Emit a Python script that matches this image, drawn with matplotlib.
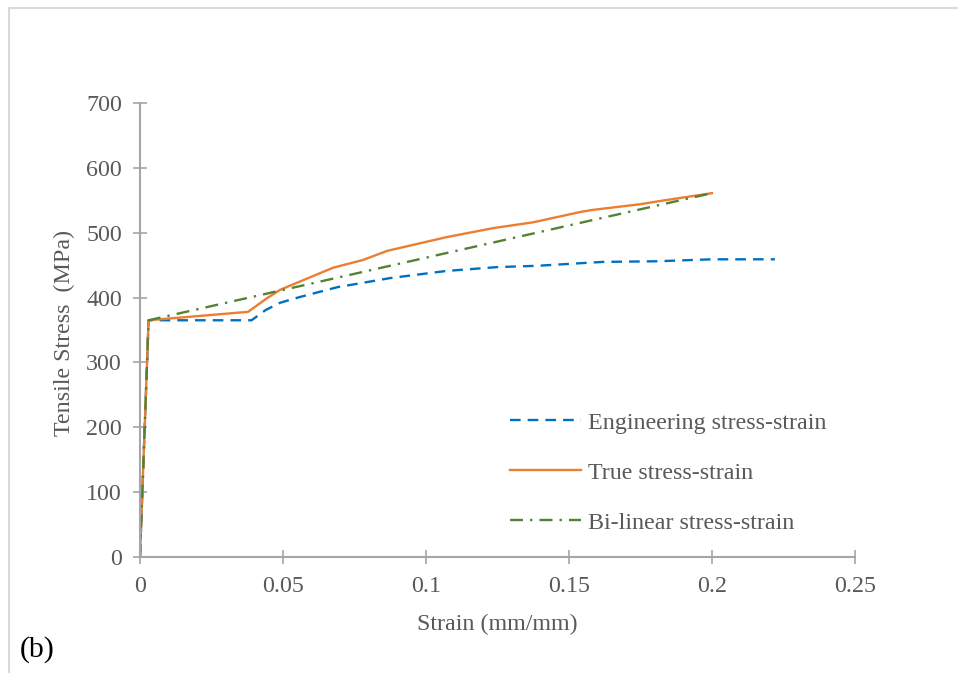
import numpy as np
import matplotlib.pyplot as plt
from matplotlib.patches import Rectangle

plt.rcParams['font.family'] = ['Liberation Serif', 'DejaVu Serif']

# Engineering stress-strain
eng_strain = [0, 0.003, 0.039, 0.044, 0.049, 0.056, 0.069, 0.0874, 0.107, 0.125, 0.139,
              0.154, 0.162, 0.181, 0.2, 0.222]
eng_stress = [0, 365, 365, 381, 392, 401, 416, 430, 441, 447, 449,
              453, 455, 456, 459, 459]

# True stress-strain
true_strain = [0, 0.003, 0.0378, 0.0444, 0.049, 0.0675, 0.078, 0.0864, 0.107, 0.1234,
               0.1374, 0.154, 0.158, 0.175, 0.182, 0.2]
true_stress = [0, 365, 378, 399, 412, 446, 458, 472, 493, 507,
               516, 532, 535, 544, 549, 561]

# Bi-linear stress-strain
bil_strain = [0, 0.003, 0.2]
bil_stress = [0, 365, 561]

xticks = [0, 0.05, 0.1, 0.15, 0.2, 0.25]
xticklabels = ["0", "0.05", "0.1", "0.15", "0.2", "0.25"]
yticks = [0, 100, 200, 300, 400, 500, 600, 700]

grey = "#595959"
spine = "#A6A6A6"
size = 17.3

fig = plt.figure(figsize=(9.58, 6.73), dpi=100)
ax = fig.add_axes([140/958, 1-557/673, 715/958, 454/673])

ax.plot(eng_strain, eng_stress, color="#0070C0", lw=1.7, ls=(0, (4.5, 3)),
        label="Engineering stress-strain")
ax.plot(true_strain, true_stress, color="#ED7D31", lw=1.7, ls="-",
        label="True stress-strain")
ax.plot(bil_strain, bil_stress, color="#548235", lw=1.7, ls=(0, (5.5, 3, 1, 3)),
        label="Bi-linear stress-strain")

ax.set_xlim(0, 0.25)
ax.set_ylim(0, 700)
ax.set_xticks(xticks)
ax.set_xticklabels(xticklabels)
ax.set_yticks(yticks)

for s in ["top", "right"]:
    ax.spines[s].set_visible(False)
for s in ["left", "bottom"]:
    ax.spines[s].set_color(spine)
    ax.spines[s].set_linewidth(1.5)
ax.tick_params(direction="inout", length=10, width=1.2, color=spine,
               labelsize=size, labelcolor=grey)
ax.tick_params(axis="x", pad=9)
ax.tick_params(axis="y", pad=8)

ax.set_xlabel("Strain (mm/mm)", size=size, color=grey, va="center")
ax.xaxis.set_label_coords(0.5, (557-624)/454)
ax.set_ylabel("Tensile Stress  (MPa)", size=size, color=grey, va="center")
ax.yaxis.set_label_coords((64-140)/715, (557-333)/454)

leg = fig.legend(loc="upper left", bbox_to_anchor=(510/958, 1-412/673), frameon=False,
                 fontsize=size, handlelength=2.95, labelspacing=1.17,
                 handletextpad=0.3, borderpad=0, borderaxespad=0)
for t in leg.get_texts():
    t.set_color(grey)

fig.text(20/958, 1-650/673, "(b)", size=21.5, color="black", va="center", ha="left")

fig.patches.append(Rectangle((8.5/958, -0.1), 1.2, 1-8.5/673+0.1, transform=fig.transFigure,
                             fill=False, edgecolor="#D9D9D9", lw=1.5))

fig.savefig("out.png", dpi=100)
